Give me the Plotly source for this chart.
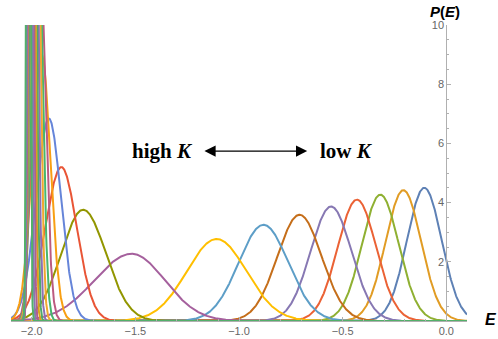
import numpy as np
import plotly.graph_objects as go

# one curve per coupling K, ordered from low K (right) to high K (left)
centers = [-0.106, -0.207, -0.318, -0.431, -0.556, -0.708, -0.882, -1.108,
           -1.518, -1.752, -1.857, -1.917, -1.952, -1.966, -1.975, -1.983,
           -1.989, -1.994, -1.999, -2.004, -2.010, -2.016]
peaks = [4.50, 4.42, 4.27, 4.10, 3.87, 3.59, 3.25, 2.77,
         2.27, 3.76, 5.20, 6.84, 9.00, 13.3, 16.6, 20.0,
         25.0, 30.5, 36.0, 44.0, 53.0, 61.0]
sig_left = [0.084, 0.086, 0.089, 0.093, 0.099, 0.107, 0.120, 0.144,
            0.180, 0.106, 0.078, 0.062, 0.046, 0.030, 0.024, 0.020,
            0.016, 0.013, 0.011, 0.009, 0.0075, 0.0065]
sig_right = [0.084, 0.086, 0.089, 0.093, 0.099, 0.107, 0.120, 0.144,
             0.160, 0.110, 0.075, 0.058, 0.042, 0.030, 0.024, 0.020,
             0.016, 0.013, 0.011, 0.009, 0.0075, 0.0065]
colors = ['#5E81B5', '#E19C24', '#8FB032', '#EB6235', '#8778B3', '#C56E1A',
          '#5D9EC7', '#FFBF00', '#A5609D', '#929600', '#E95536', '#6685D9',
          '#F89F13', '#BC5B80', '#47B66D', '#F0A830', '#8D71B3', '#4FA86B',
          '#D9A21B', '#B0608C', '#8778B3', '#52B06A']

x_ticks = [-2.0, -1.5, -1.0, -0.5, 0.0]
y_ticks = [2, 4, 6, 8, 10]

E = np.linspace(-2.1, 0.1, 1501)

fig = go.Figure()
for c, h, sl, sr, col in zip(centers, peaks, sig_left, sig_right, colors):
    s = np.where(E < c, sl, sr)
    fig.add_trace(go.Scatter(
        x=E, y=h * np.exp(-(E - c) ** 2 / (2 * s ** 2)),
        mode='lines', line=dict(color=col, width=2),
        showlegend=False, hoverinfo='skip'
    ))

axis_grey = '#b0b0b0'
tick_font = dict(family='Liberation Sans', size=11, color='#666666')

fig.update_layout(
    width=498, height=339,
    margin=dict(l=11, r=31, t=25, b=18),
    plot_bgcolor='white', paper_bgcolor='white',
    xaxis=dict(
        range=[-2.1, 0.1], showgrid=False, zeroline=False,
        showline=True, linecolor=axis_grey, linewidth=1,
        tickmode='array', tickvals=x_ticks, tickformat='.1f',
        ticks='inside', ticklen=4, tickcolor=axis_grey,
        minor=dict(dtick=0.1, tick0=0, ticks='inside', ticklen=2, tickcolor=axis_grey),
        tickfont=tick_font, automargin=False,
    ),
    yaxis=dict(
        range=[0, 10], showgrid=False, zeroline=False,
        anchor='free', position=2.1 / 2.2, side='left',
        showline=True, linecolor=axis_grey, linewidth=1,
        tickmode='array', tickvals=y_ticks, ticklabeloverflow='allow',
        ticks='inside', ticklen=4, tickcolor=axis_grey,
        minor=dict(dtick=0.5, tick0=0, ticks='inside', ticklen=2, tickcolor=axis_grey),
        tickfont=tick_font, automargin=False,
    ),
)

# axis labels
fig.add_annotation(xref='paper', yref='paper', x=1.053, y=0.004,
                   xanchor='center', yanchor='middle',
                   text='<b><i>E</i></b>', showarrow=False,
                   font=dict(family='Liberation Sans', size=16, color='black'))
fig.add_annotation(xref='paper', yref='paper', x=0.952, y=1.047,
                   xanchor='center', yanchor='middle',
                   text='<b><i>P</i>(<i>E</i>)</b>', showarrow=False,
                   font=dict(family='Liberation Sans', size=15, color='black'))

# high K <-> low K
serif = dict(family='Liberation Serif', size=21, color='black')
fig.add_annotation(x=-1.367, y=5.74, text='<b>high <i>K</i></b>',
                   showarrow=False, font=serif)
fig.add_annotation(x=-0.48, y=5.74, text='<b>low <i>K</i></b>',
                   showarrow=False, font=serif)
fig.add_annotation(x=-0.671, y=5.74, ax=-1.174, ay=5.74,
                   xref='x', yref='y', axref='x', ayref='y',
                   text='', showarrow=True, arrowside='end+start',
                   arrowhead=2, startarrowhead=2, arrowsize=1.6,
                   startarrowsize=1.6, arrowwidth=1.4, arrowcolor='black')

# drop the default 8px page margin so the figure fills the window
fig.write_html("out.html", config={'displayModeBar': False},
               post_script="document.body.style.margin = '0';")
